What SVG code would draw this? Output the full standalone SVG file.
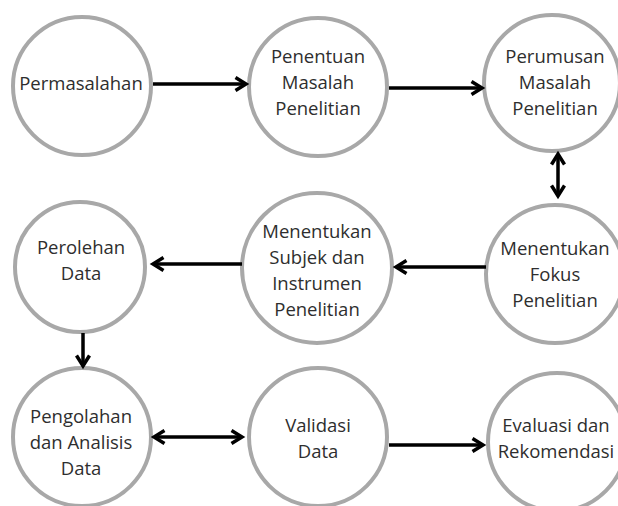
<svg xmlns="http://www.w3.org/2000/svg" width="618" height="506" viewBox="0 0 618 506">
<defs>
<style>
.node circle{fill:#fff;stroke:#a8a8a8;stroke-width:4}
.node text{font-family:"Open Sans","Noto Sans","Liberation Sans",sans-serif;font-size:18.5px;fill:#2e2e2e;text-anchor:middle}
.conn line{stroke:#000;stroke-width:3.5;fill:none}
</style>
<marker id="ah" viewBox="-14 -10 18 20" refX="0" refY="0" markerWidth="18" markerHeight="20" markerUnits="userSpaceOnUse" orient="auto-start-reverse">
<path d="M-10.5,-6.5 L0,0 L-10.5,6.5" fill="none" stroke="#000" stroke-width="3.5"/>
</marker>
</defs>
<rect width="618" height="506" fill="#fff"/>
<g id="n1" class="node"><circle cx="82" cy="86" r="69"/><text x="81" y="90">Permasalahan</text></g>
<g id="n2" class="node"><circle cx="318" cy="87" r="69"/><text x="318" y="63">Penentuan</text><text x="318" y="89">Masalah</text><text x="318" y="115">Penelitian</text></g>
<g id="n3" class="node"><circle cx="552" cy="83" r="68"/><text x="555" y="63">Perumusan</text><text x="555" y="89">Masalah</text><text x="555" y="115">Penelitian</text></g>
<g id="n4" class="node"><circle cx="555" cy="274" r="69"/><text x="555" y="255">Menentukan</text><text x="555" y="281">Fokus</text><text x="555" y="307">Penelitian</text></g>
<g id="n5" class="node"><circle cx="317" cy="268" r="75"/><text x="317" y="238">Menentukan</text><text x="317" y="264">Subjek dan</text><text x="317" y="290">Instrumen</text><text x="317" y="316">Penelitian</text></g>
<g id="n6" class="node"><circle cx="80" cy="267" r="65"/><text x="81" y="254">Perolehan</text><text x="81" y="280">Data</text></g>
<g id="n7" class="node"><circle cx="82" cy="437" r="69"/><text x="81" y="423">Pengolahan</text><text x="81" y="449">dan Analisis</text><text x="81" y="475">Data</text></g>
<g id="n8" class="node"><circle cx="318" cy="437" r="69"/><text x="318" y="432">Validasi</text><text x="318" y="458">Data</text></g>
<g id="n9" class="node"><circle cx="557" cy="442" r="69"/><text x="556" y="432">Evaluasi dan</text><text x="556" y="458">Rekomendasi</text></g>
<g id="connectors" class="conn">
<line x1="153" y1="84" x2="246" y2="84" marker-end="url(#ah)"/>
<line x1="389" y1="88" x2="482" y2="88" marker-end="url(#ah)"/>
<line x1="558" y1="154" x2="558" y2="196" marker-start="url(#ah)" marker-end="url(#ah)"/>
<line x1="486" y1="267" x2="396" y2="267" marker-end="url(#ah)"/>
<line x1="242" y1="264" x2="153" y2="264" marker-end="url(#ah)"/>
<line x1="83" y1="333" x2="83" y2="366" marker-end="url(#ah)"/>
<line x1="154" y1="437" x2="242" y2="437" marker-start="url(#ah)" marker-end="url(#ah)"/>
<line x1="389" y1="445" x2="483" y2="445" marker-end="url(#ah)"/>
</g>
</svg>
